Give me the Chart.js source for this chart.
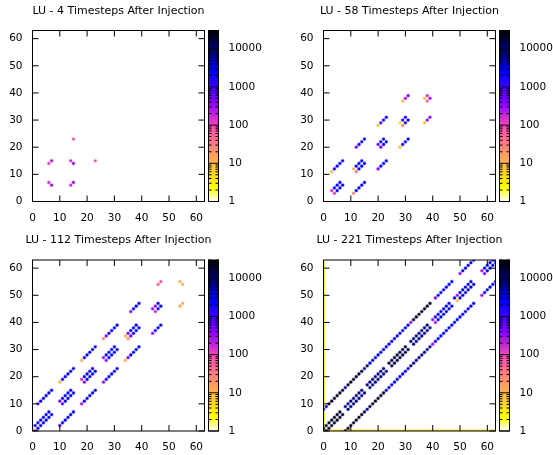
<!DOCTYPE html>
<html>
<head>
<meta charset="utf-8">
<script src="https://cdn.jsdelivr.net/npm/chart.js@4.4.0/dist/chart.umd.min.js"></script>
<style>
  body { margin: 0; background: #fff; }
  canvas { position: absolute; left: 0; top: 0; }
</style>
</head>
<body>
<canvas id="c0" width="553" height="455"></canvas>
<canvas id="c1" width="553" height="455"></canvas>
<canvas id="c2" width="553" height="455"></canvas>
<canvas id="c3" width="553" height="455"></canvas>
<script>
// tick labels and colour range
const axisTicks = [0, 10, 20, 30, 40, 50, 60];
const cbTicks = [1, 10, 100, 1000, 10000];
const cbMin = 1, cbMax = 30000;
const titles = [
  'LU - 4 Timesteps After Injection',
  'LU - 58 Timesteps After Injection',
  'LU - 112 Timesteps After Injection',
  'LU - 221 Timesteps After Injection'
];

// [x, y, messages]
const lu4 = [
  [6,7,150],[7,6,300],[14,15,150],[15,14,300],
  [6,14,100],[7,15,300],[14,6,150],[15,7,300],
  [15,23,80],[23,15,80]
];

const lu58 = [
  [3,4,150],[4,3,120],[4,5,2000],[5,4,2500],[5,6,2000],[6,5,2500],[6,7,2000],[7,6,2500],
  [3,11,10],[4,12,2000],[5,13,2000],[6,14,2000],[7,15,2500],
  [11,3,30],[12,4,2000],[13,5,2000],[14,6,2000],[15,7,2500],
  [11,12,10],[12,11,40],[12,13,2000],[13,12,2500],[13,14,2000],[14,13,2500],[14,15,2000],[15,14,2500],
  [12,20,400],[13,21,2000],[14,22,2000],[15,23,2500],
  [20,12,400],[21,13,2000],[22,14,2000],[23,15,2500],
  [20,21,400],[21,20,500],[21,22,2000],[22,21,2500],[22,23,2000],[23,22,2500],
  [20,28,8],[21,29,800],[22,30,2000],[23,31,2500],
  [28,20,8],[29,21,1500],[30,22,2000],[31,23,2500],
  [28,29,4],[29,28,25],[29,30,1500],[30,29,2000],[30,31,2000],[31,30,2500],
  [29,37,8],[30,38,300],[31,39,400],
  [37,29,8],[38,30,300],[39,31,400],
  [37,38,8],[38,37,60],[38,39,150],[39,38,300]
];

const lu112 = [
  [0,1,8],[1,0,300],[1,2,2500],[2,1,3000],[2,3,2500],[3,2,3000],[3,4,2500],[4,3,3000],
  [4,5,2500],[5,4,3000],[5,6,2500],[6,5,3000],[6,7,2500],[7,6,3000],
  [2,10,600],[3,11,2500],[4,12,3000],[5,13,3000],[6,14,3000],[7,15,3000],
  [10,2,800],[11,3,2500],[12,4,3000],[13,5,3000],[14,6,3000],[15,7,3000],
  [10,11,400],[11,10,800],[11,12,2500],[12,11,3000],[12,13,2500],[13,12,3000],
  [13,14,2500],[14,13,3000],[14,15,2500],[15,14,3000],
  [10,18,10],[11,19,2000],[12,20,2500],[13,21,3000],[14,22,3000],[15,23,3000],
  [18,10,300],[19,11,2000],[20,12,2500],[21,13,3000],[22,14,3000],[23,15,3000],
  [18,19,150],[19,18,400],[19,20,2500],[20,19,3000],[20,21,2500],[21,20,3000],
  [21,22,2500],[22,21,3000],[22,23,2500],[23,22,3000],
  [18,26,10],[19,27,2000],[20,28,2500],[21,29,2500],[22,30,3000],[23,31,3000],
  [26,18,300],[27,19,2000],[28,20,2500],[29,21,2500],[30,22,3000],[31,23,3000],
  [26,27,300],[27,26,300],[27,28,2500],[28,27,3000],[28,29,2500],[29,28,3000],
  [29,30,2500],[30,29,3000],[30,31,2500],[31,30,3000],
  [26,34,25],[27,35,400],[28,36,2500],[29,37,2500],[30,38,3000],[31,39,3000],
  [34,26,12],[35,27,400],[36,28,2500],[37,29,2500],[38,30,3000],[39,31,3000],
  [34,35,10],[35,34,25],[35,36,400],[36,35,600],[36,37,2500],[37,36,3000],
  [37,38,2500],[38,37,3000],[38,39,2500],[39,38,3000],
  [36,44,400],[37,45,2000],[38,46,2500],[39,47,3000],
  [44,36,400],[45,37,2000],[46,38,2500],[47,39,3000],
  [44,45,300],[45,44,150],[45,46,400],[46,45,2000],[46,47,2500],[47,46,2500],
  [46,54,50],[47,55,70],
  [54,46,12],[55,47,15],
  [54,55,10],[55,54,12]
];

// 221 timesteps: first row / column of small messages
const lu221Edge = [
  [0,0,4],[0,1,4],[0,2,4],[0,3,4],[0,4,4],[0,5,4],[0,6,4],[0,7,4],
  [0,8,4],[0,9,4],[0,10,4],[0,11,4],[0,12,4],[0,13,4],[0,14,4],[0,15,4],
  [0,16,4],[0,17,4],[0,18,4],[0,19,4],[0,20,4],[0,21,4],[0,22,4],[0,23,4],
  [0,24,4],[0,25,4],[0,26,4],[0,27,4],[0,28,4],[0,29,4],[0,30,4],[0,31,4],
  [0,32,4],[0,33,4],[0,34,4],[0,35,4],[0,36,4],[0,37,4],[0,38,4],[0,39,4],
  [0,40,4],[0,41,4],[0,42,4],[0,43,4],[0,44,4],[0,45,4],[0,46,4],[0,47,4],
  [0,48,4],[0,49,4],[0,50,4],[0,51,4],[0,52,4],[0,53,4],[0,54,4],[0,55,4],
  [0,56,4],[0,57,4],[0,58,4],[0,59,4],[0,60,4],[0,61,4],[0,62,4],[0,63,4],
  [1,0,4],[2,0,4],[3,0,4],[4,0,4],[5,0,4],[6,0,4],[7,0,4],
  [8,0,4],[9,0,4],[10,0,4],[11,0,4],[12,0,4],[13,0,4],[14,0,4],[15,0,4],
  [16,0,4],[17,0,4],[18,0,4],[19,0,4],[20,0,4],[21,0,4],[22,0,4],[23,0,4],
  [24,0,4],[25,0,4],[26,0,4],[27,0,4],[28,0,4],[29,0,4],[30,0,4],[31,0,4],
  [32,0,4],[33,0,4],[34,0,4],[35,0,4],[36,0,4],[37,0,4],[38,0,4],[39,0,4],
  [40,0,4],[41,0,4],[42,0,4],[43,0,4],[44,0,4],[45,0,4],[46,0,4],[47,0,4],
  [48,0,4],[49,0,4],[50,0,4],[51,0,4],[52,0,4],[53,0,4],[54,0,4],[55,0,4],
  [56,0,4],[57,0,4],[58,0,4],[59,0,4],[60,0,4],[61,0,4],[62,0,4],[63,0,4]
];

const lu221Lower = [
  [8,0,20000],[9,1,20000],[10,2,20000],[11,3,20000],[12,4,20000],[13,5,20000],[14,6,20000],[15,7,20000],
  [16,8,3000],[17,9,20000],[18,10,20000],[19,11,20000],[20,12,20000],[21,13,20000],[22,14,20000],[23,15,3000],
  [24,16,3000],[25,17,3000],[26,18,3000],[27,19,3000],[28,20,3000],[29,21,3000],[30,22,3000],[31,23,3000],
  [32,24,8000],[33,25,8000],[34,26,8000],[35,27,8000],[36,28,8000],[37,29,8000],[38,30,8000],[39,31,8000],
  [40,32,300],[41,33,2500],[42,34,2500],[43,35,2500],[44,36,2500],[45,37,2500],[46,38,2500],[47,39,2500],
  [48,40,2500],[49,41,2500],[50,42,2500],[51,43,2500],[52,44,2500],[53,45,2500],[54,46,2500],[55,47,2500],
  [58,50,300],[59,51,2500],[60,52,2500],[61,53,2500],[62,54,2500],[63,55,2500]
];

const lu221Middle = [
  [0,1,20000],[1,0,20000],[1,2,20000],[2,1,20000],[2,3,20000],[3,2,20000],[3,4,20000],
  [4,3,20000],[4,5,20000],[5,4,20000],[5,6,20000],[6,5,20000],[6,7,20000],[7,6,20000],
  [8,9,8000],[9,8,8000],[9,10,8000],[10,9,8000],[10,11,8000],[11,10,8000],[11,12,8000],
  [12,11,8000],[12,13,8000],[13,12,8000],[13,14,8000],[14,13,8000],[14,15,8000],[15,14,8000],
  [16,17,8000],[17,16,8000],[17,18,8000],[18,17,8000],[18,19,8000],[19,18,8000],[19,20,8000],
  [20,19,8000],[20,21,8000],[21,20,8000],[21,22,8000],[22,21,8000],[22,23,8000],[23,22,8000],
  [24,25,15000],[25,24,15000],[25,26,15000],[26,25,15000],[26,27,15000],[27,26,15000],[27,28,15000],
  [28,27,15000],[28,29,15000],[29,28,15000],[29,30,15000],[30,29,15000],[30,31,15000],[31,30,15000],
  [32,33,8000],[33,32,8000],[33,34,8000],[34,33,8000],[34,35,8000],[35,34,8000],[35,36,8000],
  [36,35,8000],[36,37,8000],[37,36,8000],[37,38,8000],[38,37,8000],[38,39,8000],[39,38,8000],
  [40,41,300],[41,40,300],[41,42,3000],[42,41,3000],[42,43,3000],[43,42,3000],[43,44,3000],
  [44,43,3000],[44,45,3000],[45,44,3000],[45,46,3000],[46,45,3000],[46,47,3000],[47,46,3000],
  [48,49,3000],[49,48,8],[49,50,300],[50,49,3000],[50,51,3000],[51,50,4000],[51,52,3000],
  [52,51,4000],[52,53,3000],[53,52,4000],[53,54,3000],[54,53,4000],[54,55,3000],[55,54,4000],
  [58,59,300],[59,58,400],[59,60,2500],[60,59,2500],[60,61,2500],[61,60,2500],
  [61,62,2500],[62,61,2500],[62,63,2500],[63,62,2500]
];

const lu221Upper = [
  [0,8,2500],[1,9,2500],[2,10,20000],[3,11,20000],[4,12,20000],[5,13,20000],[6,14,20000],[7,15,20000],
  [8,16,4000],[9,17,20000],[10,18,20000],[11,19,20000],[12,20,20000],[13,21,20000],[14,22,20000],[15,23,3000],
  [16,24,20000],[17,25,3000],[18,26,3000],[19,27,3000],[20,28,3000],[21,29,3000],[22,30,3000],[23,31,3000],
  [24,32,3000],[25,33,3000],[26,34,3000],[27,35,3000],[28,36,3000],[29,37,3000],[30,38,3000],[31,39,2500],
  [32,40,300],[33,41,20000],[34,42,20000],[35,43,20000],[36,44,20000],[37,45,20000],[38,46,20000],[39,47,20000],
  [41,49,400],[42,50,2500],[43,51,2500],[44,52,2500],[45,53,2500],[46,54,2500],[47,55,2500],
  [50,58,300],[51,59,2500],[52,60,2500],[53,61,2500],[54,62,2500],[55,63,2500]
];

const lu221 = [...lu221Lower, ...lu221Middle, ...lu221Upper];
const panelEdges = [[], [], [], lu221Edge];
const panels = [lu4, lu58, lu112, lu221];

// frame of each plot in page pixels
const W = 553, H = 455;
const frames = [
  { l: 32.5, r: 204.5, t: 30.5, b: 201.5 },
  { l: 323.5, r: 495.5, t: 30.5, b: 201.5 },
  { l: 32.5, r: 204.5, t: 260, b: 431 },
  { l: 323.5, r: 495.5, t: 260, b: 431 }
];
const FONT = '"DejaVu Sans", sans-serif';

// gnuplot rgbformulae 30,31,32 reversed (white -> yellow -> pink -> blue -> black)
function paletteRGB(v) {
  const clip = t => Math.min(1, Math.max(0, t));
  const n = clip(Math.log10(Math.max(v, cbMin)) / Math.log10(cbMax));
  const x = 1 - n;
  const r = clip(x / 0.32 - 0.78125);
  const g = clip(2 * x - 0.84);
  let b;
  if (x < 0.25) b = 4 * x;
  else if (x < 0.42) b = 1;
  else if (x < 0.92) b = -2 * x + 1.84;
  else b = x / 0.08 - 11.5;
  b = clip(b);
  return [Math.round(r * 255), Math.round(g * 255), Math.round(b * 255)];
}
const rgba = (c, a) => `rgba(${c[0]},${c[1]},${c[2]},${a})`;

const decorPlugin = {
  id: 'decor',
  afterDraw(chart) {
    const i = chart.options.plugins.decor.index;
    const f = frames[i];
    const ctx = chart.ctx;
    const xs = chart.scales.x, ys = chart.scales.y;
    ctx.save();

    // border
    ctx.strokeStyle = '#000';
    ctx.lineWidth = 1;
    ctx.strokeRect(f.l, f.t, f.r - f.l, f.b - f.t);

    // ticks, inward and mirrored
    ctx.beginPath();
    axisTicks.forEach(t => {
      const px = xs.getPixelForValue(t);
      ctx.moveTo(px, f.b); ctx.lineTo(px, f.b - 6);
      ctx.moveTo(px, f.t); ctx.lineTo(px, f.t + 6);
      const py = ys.getPixelForValue(t);
      ctx.moveTo(f.l, py); ctx.lineTo(f.l + 6, py);
      ctx.moveTo(f.r, py); ctx.lineTo(f.r - 6, py);
    });
    ctx.stroke();

    // tick labels
    ctx.fillStyle = '#000';
    ctx.font = '10.5px ' + FONT;
    ctx.textAlign = 'center';
    ctx.textBaseline = 'middle';
    axisTicks.forEach(t => ctx.fillText(String(t), xs.getPixelForValue(t), f.b + 16.5));
    ctx.textAlign = 'right';
    axisTicks.forEach(t => ctx.fillText(String(t), f.l - 10, ys.getPixelForValue(t)));

    // colour box
    const cx = f.r + 4, cw = 10;
    const lmax = Math.log10(cbMax);
    const cbY = v => f.b - (Math.log10(v) / lmax) * (f.b - f.t);
    for (let py = Math.floor(f.t); py < f.b; py++) {
      const frac = (f.b - (py + 0.5)) / (f.b - f.t);
      ctx.fillStyle = rgba(paletteRGB(Math.pow(10, frac * lmax)), 1);
      ctx.fillRect(cx, Math.max(py, f.t), cw, 1);
    }
    ctx.strokeStyle = '#000';
    ctx.strokeRect(cx, f.t, cw, f.b - f.t);
    ctx.beginPath();
    cbTicks.forEach(d => {
      for (let m = 1; m <= 9; m++) {
        const v = d * m;
        if (v > cbMax) break;
        const py = cbY(v);
        const len = m === 1 ? cw / 2 : 3;
        ctx.moveTo(cx, py); ctx.lineTo(cx + len, py);
        ctx.moveTo(cx + cw, py); ctx.lineTo(cx + cw - len, py);
      }
    });
    ctx.stroke();

    ctx.fillStyle = '#000';
    ctx.textAlign = 'left';
    cbTicks.forEach(d => ctx.fillText(String(d), f.r + 24, cbY(d)));

    // title
    ctx.font = '11px ' + FONT;
    ctx.textAlign = 'center';
    ctx.fillText(titles[i], (f.l + f.r) / 2, f.t - 19.5);
    ctx.restore();
  }
};

const colorOf = (c, a) => (c.raw && c.raw.v !== undefined) ? rgba(paletteRGB(c.raw.v), a) : 'rgba(0,0,0,0)';
const pointStyle = {
  pointRadius: 1.4,
  pointBorderWidth: 1.5,
  pointHoverRadius: 1.4,
  pointBackgroundColor: c => colorOf(c, 1),
  pointBorderColor: c => colorOf(c, 0.28)
};
const toXY = pts => pts.map(p => ({ x: p[0], y: p[1], v: p[2] }));

panels.forEach((pts, i) => {
  const f = frames[i];
  new Chart(document.getElementById('c' + i), {
    type: 'scatter',
    data: {
      datasets: [
        { data: toXY(pts), ...pointStyle },
        { data: toXY(panelEdges[i]), clip: 0, ...pointStyle }
      ]
    },
    options: {
      responsive: false,
      animation: false,
      devicePixelRatio: 1,
      events: [],
      layout: { padding: { left: f.l, right: W - f.r, top: f.t, bottom: H - f.b } },
      scales: {
        x: { type: 'linear', min: 0, max: 63, display: false },
        y: { type: 'linear', min: 0, max: 63, display: false }
      },
      plugins: {
        legend: { display: false },
        tooltip: { enabled: false },
        decor: { index: i }
      }
    },
    plugins: [decorPlugin]
  });
});
</script>
</body>
</html>
